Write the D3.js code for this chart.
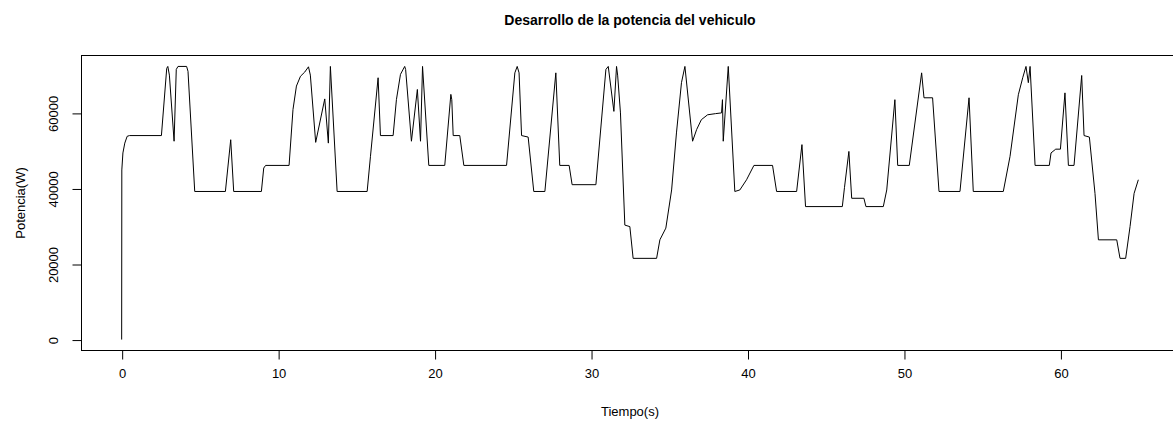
<!DOCTYPE html>
<html>
<head>
<meta charset="utf-8">
<script src="https://cdn.jsdelivr.net/npm/d3@7"></script>
<style>
  html, body { margin: 0; padding: 0; background: #fff; }
  svg { display: block; }
  text { font-family: "Liberation Sans", Arial, Helvetica, sans-serif; fill: #000; }
</style>
</head>
<body>
<svg id="chart" width="1173" height="430"></svg>
<script>
const title = "Desarrollo de la potencia del vehiculo";
const xLabel = "Tiempo(s)";
const yLabel = "Potencia(W)";
const xTicks = [0, 10, 20, 30, 40, 50, 60];
const yTicks = [0, 20000, 40000, 60000];

const time = [
  0, 0.01, 0.08, 0.2, 0.35, 0.5, 2.54, 2.88, 2.95, 3.05, 3.35, 3.49, 3.6, 4.15, 4.24, 4.67,
  6.63, 6.97, 7.16, 8.93, 9.08, 9.2, 10.7, 10.95, 11.17, 11.43, 11.7, 11.94, 12.06, 12.4,
  12.98, 13.21, 13.34, 13.77, 15.69, 15.9, 16.39, 16.54, 17.35, 17.56, 17.82, 18.09, 18.15,
  18.52, 18.9, 19.1, 19.23, 19.63, 20.65, 21.04, 21.1, 21.19, 21.61, 21.87, 24.6, 25.13,
  25.28, 25.4, 25.56, 25.98, 26.34, 27.05, 27.75, 28.0, 28.6, 28.79, 30.31, 30.95, 31.1,
  31.46, 31.63, 31.7, 31.88, 32.16, 32.48, 32.69, 34.19, 34.4, 34.78, 35.15, 35.46, 35.78,
  36.0, 36.49, 36.75, 37.05, 37.45, 37.95, 38.34, 38.4, 38.45, 38.77, 39.19, 39.51, 39.94,
  40.41, 41.6, 41.86, 43.14, 43.48, 43.71, 46.06, 46.2, 46.48, 46.66, 47.44, 47.57, 48.68,
  48.9, 49.42, 49.6, 50.34, 51.13, 51.28, 51.83, 52.24, 53.58, 54.16, 54.43, 56.35, 56.78,
  57.31, 57.59, 57.8, 57.95, 58.06, 58.38, 59.29, 59.4, 59.7, 60.0, 60.29, 60.51, 60.87,
  61.36, 61.51, 61.85, 62.21, 62.43, 63.6, 63.81, 64.17, 64.45, 64.71, 64.98
];
const power = [
  0, 44900, 49400, 52000, 53800, 54000, 54000, 71800, 72300, 70000, 52500, 71500, 72300, 72300, 71000, 39200,
  39200, 52900, 39200, 39200, 45400, 46100, 46100, 60900, 67100, 69700, 70800, 72200, 70000, 52200,
  63700, 52000, 72300, 39200, 39200, 48400, 69300, 54000, 54000, 63500, 70200, 72300, 71500,
  52500, 66200, 52500, 72300, 46100, 46100, 64900, 63500, 54000, 54000, 46100, 46100, 70600,
  72300, 70600, 54000, 53600, 39200, 39200, 70600, 46100, 46100, 41000, 41000, 71500, 72300,
  60400, 72300, 70000, 60000, 30300, 29900, 21500, 21500, 26400, 29500, 39600, 54700, 68000,
  72300, 52500, 55600, 58200, 59500, 59800, 60000, 63500, 52500, 72300, 39200, 39600, 42300,
  46100, 46100, 39200, 39200, 51600, 35200, 35200, 40300, 49800, 37400, 37400, 35200, 35200,
  39600, 63500, 46100, 46100, 70600, 64000, 64000, 39200, 39200, 64000, 39200, 39200, 48500,
  64800, 69300, 72300, 68000, 72300, 46100, 46100, 49400, 50400, 50400, 65300, 46100, 46100,
  69900, 54000, 53600, 38700, 26400, 26400, 21500, 21500, 29900, 38700, 42300
];

(function () {
  const data = time.map((t, i) => ({ t: t, v: power[i] }));

  const svg = d3.select("#chart");
  const pL = 81, pR = 1179, pT = 55.5, pB = 350.5;

  // R-style 4% padding of the data range
  const xExt = d3.extent(time), yExt = d3.extent(power);
  const xPad = (xExt[1] - xExt[0]) * 0.04, yPad = (yExt[1] - yExt[0]) * 0.04;
  const x = d3.scaleLinear().domain([xExt[0] - xPad, xExt[1] + xPad]).range([pL, pR]);
  const y = d3.scaleLinear().domain([yExt[0] - yPad, yExt[1] + yPad]).range([pB, pT]);

  // line
  svg.append("path")
    .datum(data)
    .attr("fill", "none")
    .attr("stroke", "#000")
    .attr("stroke-width", 1)
    .attr("d", d3.line().x(d => x(d.t)).y(d => y(d.v)));

  // box
  svg.append("rect")
    .attr("x", pL + 0.5).attr("y", pT)
    .attr("width", pR - pL).attr("height", pB - pT)
    .attr("fill", "none").attr("stroke", "#000").attr("stroke-width", 1);

  // x axis
  const xAxis = d3.axisBottom(x).tickValues(xTicks).tickSize(9).tickPadding(9).tickFormat(d3.format("d"));
  const gx = svg.append("g").attr("transform", `translate(0.5,${pB})`).call(xAxis);
  gx.select(".domain").remove();
  gx.selectAll(".tick line").attr("stroke", "#000");
  gx.selectAll(".tick text").attr("font-size", 13).attr("font-family", "Liberation Sans, Arial, sans-serif");

  // y axis
  const yAxis = d3.axisLeft(y).tickValues(yTicks).tickSize(9).tickFormat(d3.format("d"));
  const gy = svg.append("g").attr("transform", `translate(${pL + 0.5},0.5)`).call(yAxis);
  gy.select(".domain").remove();
  gy.selectAll(".tick line").attr("stroke", "#000");
  gy.selectAll(".tick text")
    .attr("font-size", 13)
    .attr("font-family", "Liberation Sans, Arial, sans-serif")
    .attr("x", null).attr("dy", null)
    .attr("text-anchor", "middle")
    .attr("transform", "translate(-28,0) rotate(-90)")
    .attr("dominant-baseline", "central");

  // titles
  svg.append("text")
    .attr("x", (pL + pR) / 2).attr("y", 25)
    .attr("text-anchor", "middle")
    .attr("font-weight", "bold").attr("font-size", 14)
    .text(title);

  svg.append("text")
    .attr("x", (pL + pR) / 2).attr("y", 416)
    .attr("text-anchor", "middle").attr("font-size", 13)
    .text(xLabel);

  svg.append("text")
    .attr("transform", `translate(20,${(pT + pB) / 2}) rotate(-90)`)
    .attr("text-anchor", "middle").attr("dominant-baseline", "central")
    .attr("font-size", 13)
    .text(yLabel);
})();
</script>
</body>
</html>
